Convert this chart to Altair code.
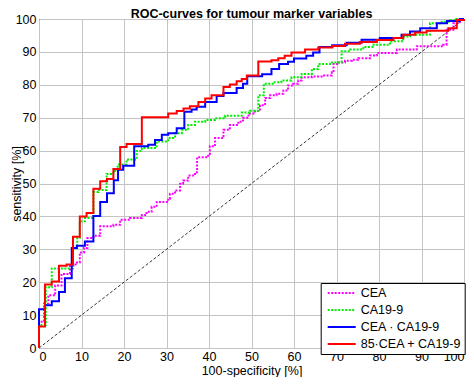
import altair as alt
import pandas as pd

series_names = ["CEA", "CA19-9", "CEA · CA19-9", "85·CEA + CA19-9"]
series_colors = ["#ff00ff", "#00ee00", "#0000ff", "#ff0000"]
series_dashes = [[2, 1.5], [2, 1.5], [1, 0], [1, 0]]

cea_x = [0, 0, 1.2, 2.2, 3.8, 5.3, 7.3, 8.6, 9.6, 10.6, 11.4, 12.8, 14.4, 17.5, 19.1, 21.4, 24.2, 25.3, 26.5, 27.7,
         30.4, 30.8, 32.0, 33.2, 33.9, 35.1, 36.7, 37.2, 39.8, 40.2, 41.4, 43.4, 44.9, 46.9, 48.0, 49.3, 50.8, 52.0,
         53.2, 54.4, 55.9, 57.5, 58.6, 59.8, 61.0, 61.8, 64.2, 66.5, 68.9, 69.3, 70.4, 72.0, 73.6, 75.1, 77.9, 79.5,
         84.2, 88.9, 95.1, 95.9, 97.5, 99.0, 100]
cea_y = [0, 8, 13.5, 16, 19, 22.5, 25, 26, 29, 30.4, 33.4, 34.1, 37, 37.5, 39, 39.5, 40.4, 41.4, 42.9, 44.4,
         45.4, 46.9, 47.9, 49.9, 50.9, 52.4, 53.4, 58, 59, 61.3, 63.8, 66.3, 67.8, 68.8, 70, 71.3, 72, 73.8,
         76, 76.8, 77.3, 78.3, 79.8, 80.3, 81.3, 82.3, 82.5, 82.8, 83.8, 86.3, 86.8, 87.3, 87.6, 88.1, 88.9, 89.7,
         90.7, 91.7, 92.2, 96.7, 98.7, 100, 100]

ca199_x = [0, 0, 1.6, 3.0, 8.0, 9.0, 9.6, 10.8, 12.8, 14.0, 15.9, 17.5, 18.5, 20.6, 23.0, 24.2, 27.7, 30.4, 32.0,
           33.6, 35.1, 36.7, 39.1, 41.4, 43.8, 47.7, 49.6, 51.6, 52.9, 55.0, 57.0, 59.4, 61.8, 64.2, 65.7, 68.9,
           71.2, 73.2, 76.3, 78.7, 82.6, 85.7, 87.3, 92.0, 94.4, 96.7, 98.2, 100]
ca199_y = [0, 7, 18.5, 24.2, 30.4, 33.5, 38.5, 39.5, 47.4, 48.0, 52.9, 53.8, 55.8, 57.3, 59.9, 60.8, 62.8, 63.8, 65.3,
           66.3, 67.8, 68.8, 69.3, 69.8, 70.6, 71.6, 72.1, 76.8, 80.3, 80.8, 81.3, 82.3, 83.3, 84.8, 86.3, 86.8,
           90.2, 90.7, 91.5, 92.2, 93.2, 94.7, 95.2, 98.7, 99.2, 99.6, 100, 100]

prod_x = [0, 0, 1.4, 3.0, 4.7, 6.1, 7.7, 8.9, 10.8, 12.8, 14.4, 16.0, 17.6, 18.6, 19.8, 22.4, 25.7, 27.3, 28.9, 30.4,
          32.4, 34.2, 35.9, 37.1, 39.1, 41.8, 43.4, 46.5, 48.0, 49.0, 52.5, 54.7, 56.5, 58.6, 60.0, 62.9, 64.5,
          66.0, 69.0, 72.4, 75.9, 80.2, 85.3, 87.3, 89.7, 93.6, 96.0, 99.0, 100]
prod_y = [0, 11.8, 13, 14.2, 17, 21.2, 30.4, 31.1, 32.4, 40.1, 44.4, 47, 51, 54.2, 55.4, 61.3, 61.8, 63.2, 64.8, 65.3,
          66.8, 71.8, 72.5, 73.3, 74.8, 76.6, 77.5, 79, 80.3, 82.6, 83.2, 84.8, 86.3, 87, 88, 88.8, 89.8,
          91.5, 92, 92.8, 93.7, 94.2, 95.2, 96.2, 97.2, 98.7, 99.4, 100, 100]

comb_x = [0, 0, 1.4, 3.0, 4.7, 6.5, 8.0, 9.6, 11.2, 12.8, 14.4, 16.0, 17.5, 19.1, 20.6, 24.2, 30.4, 32.4, 34.0, 35.5,
          37.5, 39.1, 40.6, 43.4, 44.9, 46.5, 47.7, 48.9, 51.6, 54.7, 56.3, 57.8, 59.4, 62.6, 65.7, 69.0, 72.0, 75.5,
          79.5, 83.4, 85.7, 88.5, 91.2, 96.3, 98.3, 100]
comb_y = [0, 6.5, 19.3, 20.2, 25, 25.4, 33.8, 40, 41, 48.4, 50.7, 51.4, 54.4, 61.1, 62, 70.1, 71.3, 72, 72.8, 73.5,
          74.8, 75.8, 76.8, 79.3, 80.1, 81.1, 81.8, 82.8, 87.1, 87.5, 88.1, 88.8, 89.8, 90.7, 91.3, 91.8, 92.5, 93,
          93.6, 94.2, 95.2, 95.9, 96.4, 97.2, 99.7, 100]

diag_x = [0, 100]
diag_y = [0, 100]

tick_values = [0, 10, 20, 30, 40, 50, 60, 70, 80, 90, 100]

rows = []
for name, xs, ys in zip(series_names, [cea_x, ca199_x, prod_x, comb_x], [cea_y, ca199_y, prod_y, comb_y]):
    for i, (a, b) in enumerate(zip(xs, ys)):
        rows.append({"series": name, "fpr": a, "tpr": b, "idx": i})
df = pd.DataFrame(rows)
diag = pd.DataFrame({"fpr": diag_x, "tpr": diag_y})

FONT = "Liberation Sans"
PLOT_H = 329

xscale = alt.Scale(domain=[0, 100], nice=False, zero=False)
yscale = alt.Scale(domain=[0, 100], nice=False, zero=False)

xaxis = alt.Axis(values=tick_values, title="100-specificity [%]", labelPadding=2, titleY=26.3,
                 titleBaseline="alphabetic")
yaxis = alt.Axis(values=tick_values, title="sensitivity [%]", labelPadding=3, titleX=-19, titleY=PLOT_H / 2,
                 titleAngle=270, titleAlign="center", titleBaseline="alphabetic")

legend = alt.Legend(orient="none", legendX=281.7, legendY=PLOT_H - 65, symbolType="M-2.3333,0H2.3333",
                    symbolSize=144, symbolStrokeWidth=2, symbolOffset=11, labelOffset=12, padding=3,
                    rowPadding=3, strokeColor="black", fillColor="white", labelFont=FONT, labelFontSize=12.5,
                    labelColor="black", cornerRadius=0, labelLimit=200)

diag_chart = alt.Chart(diag).mark_line(color="black", strokeWidth=0.8, strokeDash=[3, 2]).encode(
    x=alt.X("fpr:Q", scale=xscale, axis=xaxis),
    y=alt.Y("tpr:Q", scale=yscale, axis=yaxis),
)

layers = [diag_chart]
for name in series_names:
    layers.append(
        alt.Chart(df).transform_filter(alt.datum.series == name).mark_line(
            interpolate="step-after", strokeWidth=2
        ).encode(
            x=alt.X("fpr:Q", scale=xscale, axis=xaxis),
            y=alt.Y("tpr:Q", scale=yscale, axis=yaxis),
            order="idx:Q",
            color=alt.Color("series:N", title=None,
                            scale=alt.Scale(domain=series_names, range=series_colors), legend=legend),
            strokeDash=alt.StrokeDash("series:N", title=None,
                                      scale=alt.Scale(domain=series_names, range=series_dashes), legend=legend),
        )
    )

chart = alt.layer(*layers).properties(
    width=425,
    height=PLOT_H,
    autosize=alt.AutoSizeParams(type="none"),
    padding={"left": 31, "top": 11, "right": 2, "bottom": 29},
    title=alt.TitleParams("ROC-curves for tumour marker variables", font=FONT, fontSize=12.5,
                          fontWeight="bold", color="black", offset=-17, baseline="alphabetic",
                          anchor="middle", frame="group"),
).configure_view(
    stroke="black", strokeWidth=1
).configure_axis(
    grid=True, gridColor="#c4c4c4", gridWidth=1, domain=False, ticks=False,
    labelFont=FONT, labelFontSize=12.5, labelColor="black",
    titleFont=FONT, titleFontSize=12.5, titleFontWeight="normal", titleColor="black",
)

chart.save("out.html", embed_options={"renderer": "svg", "actions": False})
